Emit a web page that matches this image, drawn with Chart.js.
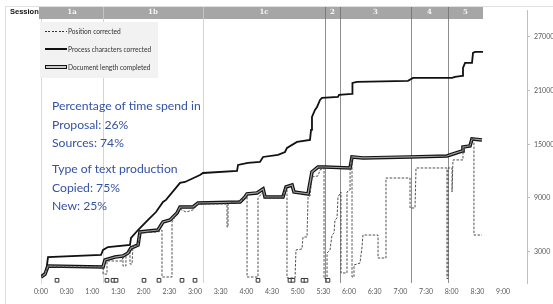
<!DOCTYPE html>
<html>
<head>
<meta charset="utf-8">
<script src="https://cdn.jsdelivr.net/npm/chart.js@4.4.1/dist/chart.umd.min.js"></script>
<style>
  body { margin: 0; background: #fff; }
  #wrap { position: relative; width: 553px; height: 304px; overflow: hidden; font-family: Lato, "Liberation Sans", sans-serif; }
  #frame { position: absolute; left: 5px; top: 6px; right: 0; bottom: 0; border-left: 1px solid #e0e0e0; border-top: 1px solid #e0e0e0; }
  #session { position: absolute; left: 10px; top: 7px; font: bold 7.5px "Liberation Sans", sans-serif; color: #111; }
  #legend { position: absolute; left: 40px; top: 22px; width: 118px; height: 56px; background: #f2f2f2; }
  .row { position: absolute; left: 5px; height: 10px; }
  .row span { position: absolute; left: 23px; top: 0; font-size: 6.6px; line-height: 10px; color: #333; white-space: nowrap; }
  .smp { position: absolute; left: 0; width: 22px; }
  #note { position: absolute; left: 52px; top: 97px; color: #3452a4; font-size: 12.2px; line-height: 18.5px; }
</style>
</head>
<body>
<div id="wrap">
  <canvas id="c" width="553" height="304"></canvas>
  <div id="frame"></div>
  <div id="session">Session</div>
  <div id="legend">
    <div class="row" style="top:4px"><div class="smp" style="top:5px;height:1px;background:repeating-linear-gradient(90deg,#333 0 2px,transparent 2px 3.5px)"></div><span>Position corrected</span></div>
    <div class="row" style="top:22px"><div class="smp" style="top:4px;height:2px;background:#111"></div><span>Process characters corrected</span></div>
    <div class="row" style="top:40px"><div class="smp" style="top:3px;height:4px;box-sizing:border-box;border:1px solid #111;background:#c8c8c8"></div><span>Document length completed</span></div>
  </div>
  <div id="note">
    Percentage of time spend in<br>Proposal: 26%<br>Sources: 74%
    <div style="height:7.5px"></div>
    Type of text production<br>Copied: 75%<br>New: 25%
  </div>
</div>
<script>
// time in minutes, values in characters
var processMin = [0,5.8,8.2,70.1,72.5,78.3,104,105.2,113.4,125.1,134.4,142.6,146.1,162.5,168.3,185.8,189.3,229.1,230.3,241.9,255.9,259.5,277,285.2,287.5,299.2,314.4,315.6,316.7,320.2,322.6,326.1,328.4,347.1,348.3,363.5,364,369.3,428.9,434.8,480.4,483.9,492.1,493.2,495.6,503.7,504.9,507.3,516.6];
var processChars = [280,620,2400,2630,3190,3520,3750,4530,5420,6540,7430,8550,8780,10680,10790,11570,11790,12020,12690,12910,13020,13580,13810,14140,14590,15260,15480,16600,18050,18840,19170,19950,20180,20290,20510,20620,21850,21970,22080,22410,22410,22530,22640,23530,24090,24090,25210,25320,25320];

var docMin = [0,4.7,8.2,72.5,74.8,86.5,95.8,101.7,105.2,113.4,115.7,136.7,142.6,150.8,159,162.5,177.7,183.5,232.6,238.4,240.8,252.5,259.5,261.8,282.8,286.4,293.4,295.7,312.1,316.7,323.7,332,361.2,363.5,376.3,431.3,474.5,481.5,492.1,493.2,501.4,503.7,515.4];
var docLen = [170,500,1400,1290,2070,2400,2520,2850,3410,3750,5200,5420,6320,6540,7320,7990,7990,8440,8550,9110,9450,9560,10010,9110,9110,10230,10450,9670,9450,11910,12460,12460,12350,13580,13470,13580,13690,13920,14250,14700,14810,15590,15480];

var posMin = [0,4.7,8.2,72.5,72.5,77.1,77.1,94.7,95.8,95.8,99.3,99.3,104,104,106.4,107.5,113.4,115.7,136.7,141.4,141.4,153.1,153.1,159,162.5,169.5,177.7,183.5,217.4,217.4,218.6,218.6,238.4,240.8,240.8,253.6,253.6,259.5,261.8,282.8,285.2,287.5,287.5,296.9,298,305,306.2,310.9,312.1,314.4,316.7,323.7,326.1,330.8,330.8,334.3,334.3,337.8,340.1,342.5,343.6,346,347.1,350.6,350.6,357.6,357.6,361.2,361.2,363.5,363.5,365.8,365.8,372.8,375.2,376.3,393.9,393.9,403.2,403.2,431.3,431.3,437.1,438.3,474.5,474.5,475.7,475.7,480.4,480.4,481.5,493.2,493.2,501.4,503.7,506,506,515.4];
var posChars = [170,620,1290,1290,500,500,1960,1960,2520,1400,1400,2850,3190,1620,1620,3630,3750,5090,5200,5420,170,170,6320,7320,7770,7430,7660,8330,8330,5760,5760,8330,8890,9220,170,170,9000,9670,9000,9000,10120,10120,60,60,3190,3300,4640,4640,9110,9220,11350,11460,12130,12350,0,0,2850,3190,4860,5090,6540,6760,9110,9670,620,620,9670,9890,12350,13580,170,170,1510,1730,3520,4860,4860,2290,2290,11230,11230,7880,7880,12350,12350,0,0,12350,12350,9670,13250,13250,14590,14810,15590,15710,4860,4860];

var markMin = [18.7,77.1,84.2,87.7,120.4,137.9,164.8,180,253.6,291,294.5,306.2,309.7,335.4];
var markVal = [-200,-200,-200,-200,-200,-200,-200,-200,-200,-200,-200,-200,-200,-200];

var sessionNames = ['1a','1b','1c','2','3','4','5'];
var sessionEnd = [72.5,189.3,332,349.5,432.5,475.7,516.6];

var xTickMin = [0,30,60,90,120,150,180,210,240,270,300,330,360,390,420,450,480,510,540];
var xTickLabels = ['0:00','0:30','1:00','1:30','2:00','2:30','3:00','3:30','4:00','4:30','5:00','5:30','6:00','6:30','7:00','7:30','8:00','8:30','9:00'];
var yTicks = [3000,9000,15000,21000,27000];

function pts(xs, ys) {
  return xs.map(function (x, i) { return { x: x, y: ys[i] }; });
}

// session bar and session boundary lines
var sessionPlugin = {
  id: 'sessions',
  beforeDatasetsDraw: function (chart) {
    var ctx = chart.ctx, xs = chart.scales.x, a = chart.chartArea;
    ctx.save();
    for (var i = 0; i < sessionEnd.length - 1; i++) {
      var px = Math.round(xs.getPixelForValue(sessionEnd[i])) + 0.5;
      ctx.strokeStyle = i < 2 ? '#d4d4d4' : '#8f8f8f';
      ctx.lineWidth = 1;
      ctx.beginPath();
      ctx.moveTo(px, 19);
      ctx.lineTo(px, a.bottom);
      ctx.stroke();
    }
    ctx.restore();
  },
  afterDraw: function (chart) {
    var ctx = chart.ctx, xs = chart.scales.x;
    ctx.save();
    var x0 = xs.getPixelForValue(0) - 2;
    var x1 = xs.getPixelForValue(sessionEnd[sessionEnd.length - 1]);
    ctx.fillStyle = '#a6a6a6';
    ctx.fillRect(x0, 6, x1 - x0, 13);
    ctx.font = 'bold 7px "DejaVu Serif", serif';
    ctx.textAlign = 'center';
    ctx.textBaseline = 'middle';
    var start = 0;
    for (var i = 0; i < sessionEnd.length; i++) {
      var a = xs.getPixelForValue(start), b = xs.getPixelForValue(sessionEnd[i]);
      if (i < sessionEnd.length - 1) {
        var px = Math.round(b) + 0.5;
        ctx.strokeStyle = i < 2 ? '#c4c4c4' : '#7a7a7a';
        ctx.beginPath();
        ctx.moveTo(px, 6);
        ctx.lineTo(px, 19);
        ctx.stroke();
      }
      ctx.fillStyle = '#f4f4f4';
      ctx.fillText(sessionNames[i], (a + b) / 2, 12.5);
      start = sessionEnd[i];
    }
    ctx.restore();
  }
};

new Chart(document.getElementById('c'), {
  type: 'line',
  data: {
    datasets: [
      {
        label: 'marks',
        data: pts(markMin, markVal),
        showLine: false,
        pointStyle: 'rect',
        pointRadius: 2.6,
        pointBorderWidth: 1,
        pointBorderColor: '#333',
        pointBackgroundColor: '#fff'
      },
      {
        label: 'Position corrected',
        data: pts(posMin, posChars),
        borderColor: '#3c3c3c',
        borderWidth: 0.9,
        borderDash: [2.5, 1.5],
        pointRadius: 0
      },
      {
        label: 'Document length completed',
        data: pts(docMin, docLen),
        borderColor: '#a0a0a0',
        borderWidth: 1.2,
        pointRadius: 0
      },
      {
        label: 'Document length completed (outline)',
        data: pts(docMin, docLen),
        borderColor: '#111',
        borderWidth: 3.6,
        pointRadius: 0
      },
      {
        label: 'Process characters corrected',
        data: pts(processMin, processChars),
        borderColor: '#111',
        borderWidth: 1.8,
        pointRadius: 0
      }
    ]
  },
  options: {
    responsive: false,
    animation: false,
    devicePixelRatio: 1,
    layout: { padding: { left: 41, top: 10, right: 0, bottom: 0 } },
    plugins: { legend: { display: false }, tooltip: { enabled: false } },
    elements: { line: { tension: 0 } },
    scales: {
      x: {
        type: 'linear',
        min: 0,
        max: 568,
        afterBuildTicks: function (s) { s.ticks = xTickMin.map(function (v) { return { value: v }; }); },
        afterFit: function (s) { s.height = 21; },
        grid: { display: false, drawTicks: false },
        border: { display: false },
        ticks: {
          padding: 5,
          maxRotation: 0,
          autoSkip: false,
          color: '#595959',
          font: { size: 7, family: 'Lato' },
          callback: function (v) { return xTickLabels[xTickMin.indexOf(v)]; }
        }
      },
      yl: {
        position: 'left',
        min: -500,
        max: 30000,
        afterFit: function (s) { s.width = 0; },
        grid: { display: false },
        border: { color: '#d9d9d9' },
        ticks: { display: false }
      },
      y: {
        position: 'right',
        min: -500,
        max: 30000,
        afterBuildTicks: function (s) { s.ticks = yTicks.map(function (v) { return { value: v }; }); },
        afterFit: function (s) { s.width = 26; },
        grid: { drawOnChartArea: false, tickLength: 3, color: '#bfbfbf' },
        border: { color: '#bfbfbf' },
        ticks: {
          padding: 4,
          color: '#595959',
          font: { size: 7, family: 'Lato' },
          callback: function (v) { return String(v); }
        }
      }
    }
  },
  plugins: [sessionPlugin]
});
</script>
</body>
</html>
